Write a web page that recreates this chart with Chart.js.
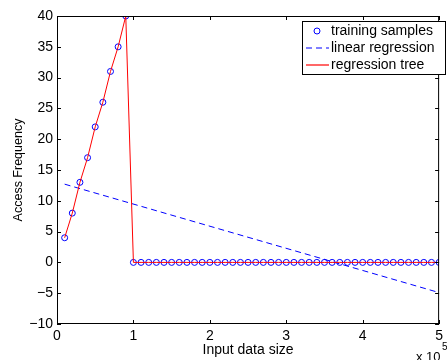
<!DOCTYPE html>
<html>
<head>
<meta charset="utf-8">
<script src="https://cdn.jsdelivr.net/npm/chart.js@4/dist/chart.umd.min.js"></script>
<style>
  html, body { margin: 0; padding: 0; background: #fff; }
  #wrap { width: 447px; height: 360px; }
</style>
</head>
<body>
<div id="wrap"><canvas id="chart" width="447" height="360"></canvas></div>
<script>
// input data size (x 10^5)
const sampleX = [0.1, 0.2, 0.3, 0.4, 0.5, 0.6, 0.7, 0.8, 0.9,
  1.0, 1.1, 1.2, 1.3, 1.4, 1.5, 1.6, 1.7, 1.8, 1.9,
  2.0, 2.1, 2.2, 2.3, 2.4, 2.5, 2.6, 2.7, 2.8, 2.9,
  3.0, 3.1, 3.2, 3.3, 3.4, 3.5, 3.6, 3.7, 3.8, 3.9,
  4.0, 4.1, 4.2, 4.3, 4.4, 4.5, 4.6, 4.7, 4.8, 4.9, 5.0];
// access frequency of the training samples
const sampleY = [4, 8, 13, 17, 22, 26, 31, 35, 40,
  0, 0, 0, 0, 0, 0, 0, 0, 0, 0,
  0, 0, 0, 0, 0, 0, 0, 0, 0, 0,
  0, 0, 0, 0, 0, 0, 0, 0, 0, 0,
  0, 0, 0, 0, 0, 0, 0, 0, 0, 0, 0];
// linear regression end points
const linearX = [0.1, 5.0];
const linearY = [12.7, -4.9];
// regression tree follows the samples
const treeX = sampleX;
const treeY = sampleY;

const xTicks = [0, 1, 2, 3, 4, 5];
const yTicks = [-10, -5, 0, 5, 10, 15, 20, 25, 30, 35, 40];

const FONT = "'Liberation Sans', Arial, Helvetica, sans-serif";
const BLUE = "#0000ff";
const RED = "#ff0000";

function pts(xs, ys) {
  return xs.map((x, i) => ({ x: x, y: ys[i] }));
}

// box, inward ticks, legend and exponent label (MATLAB look)
const matlabAxes = {
  id: "matlabAxes",
  afterDraw(chart) {
    const ctx = chart.ctx;
    const a = chart.chartArea;
    const xs = chart.scales.x;
    const ys = chart.scales.y;
    ctx.save();
    ctx.strokeStyle = "#000";
    ctx.lineWidth = 1;
    ctx.strokeRect(a.left + 0.5, a.top + 0.5, a.right - a.left - 1, a.bottom - a.top - 1);
    const tl = 4;
    ctx.beginPath();
    xTicks.forEach(v => {
      const px = Math.round(xs.getPixelForValue(v)) + 0.5;
      ctx.moveTo(px, a.bottom); ctx.lineTo(px, a.bottom - tl);
      ctx.moveTo(px, a.top); ctx.lineTo(px, a.top + tl);
    });
    yTicks.forEach(v => {
      const py = Math.round(ys.getPixelForValue(v)) + 0.5;
      ctx.moveTo(a.left, py); ctx.lineTo(a.left + tl, py);
      ctx.moveTo(a.right, py); ctx.lineTo(a.right - tl, py);
    });
    ctx.stroke();

    // exponent
    ctx.fillStyle = "#000";
    ctx.font = "13px " + FONT;
    ctx.textBaseline = "alphabetic";
    ctx.textAlign = "left";
    ctx.fillText("x 10", 416, 361);
    ctx.font = "10px " + FONT;
    ctx.fillText("5", 442, 350);

    // legend
    const lx = 302.5, ly = 21.5, lw = 143, lh = 53;
    ctx.fillStyle = "#fff";
    ctx.fillRect(lx, ly, lw, lh);
    ctx.strokeStyle = "#000";
    ctx.strokeRect(lx, ly, lw, lh);
    ctx.font = "14px " + FONT;
    ctx.textBaseline = "middle";
    const rows = [31, 48, 65];
    chart.data.datasets.forEach((ds, i) => {
      const y = rows[i];
      ctx.save();
      ctx.strokeStyle = ds.borderColor;
      ctx.lineWidth = 1.2;
      if (ds.showLine === false) {
        ctx.lineWidth = 1;
        ctx.beginPath();
        ctx.arc(317, y, 3, 0, Math.PI * 2);
        ctx.stroke();
      } else {
        ctx.setLineDash(ds.borderDash || []);
        ctx.beginPath();
        ctx.moveTo(306, y);
        ctx.lineTo(329, y);
        ctx.stroke();
      }
      ctx.restore();
      ctx.fillStyle = "#000";
      ctx.fillText(ds.label, 331, y);
    });
    ctx.restore();
  }
};

new Chart(document.getElementById("chart"), {
  type: "scatter",
  data: {
    datasets: [
      {
        label: "training samples",
        data: pts(sampleX, sampleY),
        showLine: false,
        borderColor: BLUE,
        backgroundColor: "rgba(0,0,0,0)",
        borderWidth: 1,
        pointRadius: 3,
        pointStyle: "circle",
        order: 1
      },
      {
        label: "linear regression",
        data: pts(linearX, linearY),
        showLine: true,
        borderColor: BLUE,
        borderWidth: 1,
        borderDash: [6, 4],
        pointRadius: 0,
        order: 2
      },
      {
        label: "regression tree",
        data: pts(treeX, treeY),
        showLine: true,
        borderColor: RED,
        borderWidth: 1,
        pointRadius: 0,
        order: 0
      }
    ]
  },
  options: {
    responsive: false,
    animation: false,
    layout: { padding: { top: 16, right: 2, left: 0, bottom: 0 } },
    plugins: {
      legend: { display: false },
      tooltip: { enabled: false }
    },
    scales: {
      x: {
        type: "linear",
        min: 0,
        max: 5,
        afterBuildTicks: s => { s.ticks = xTicks.map(v => ({ value: v })); },
        afterFit: s => { s.height = 36; },
        grid: { display: false, drawTicks: false },
        border: { display: false },
        ticks: { color: "#000", font: { family: FONT, size: 14 }, padding: 4, maxRotation: 0 },
        title: { display: true, text: "Input data size", color: "#000", font: { family: FONT, size: 14 }, padding: { bottom: 1 } }
      },
      y: {
        type: "linear",
        min: -10,
        max: 40,
        afterBuildTicks: s => { s.ticks = yTicks.map(v => ({ value: v })); },
        afterFit: s => { s.width = 57; },
        grid: { display: false, drawTicks: false },
        border: { display: false },
        ticks: { color: "#000", font: { family: FONT, size: 14 }, padding: 4,
          callback: v => (v < 0 ? "\u2212" + Math.abs(v) : String(v)) },
        title: { display: true, text: "Access Frequency", color: "#000", font: { family: FONT, size: 12.5 }, padding: { top: 11 } }
      }
    }
  },
  plugins: [matlabAxes]
});
</script>
</body>
</html>
